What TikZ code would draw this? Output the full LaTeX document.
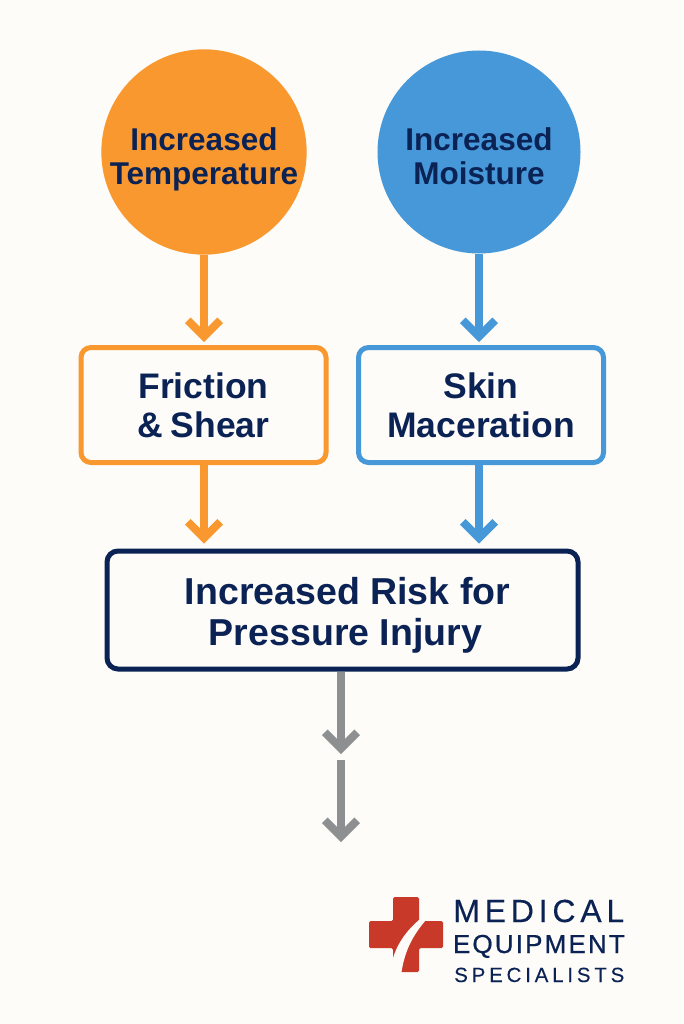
\documentclass[tikz,border=0pt]{standalone}
\usepackage{fontspec}
\setmainfont{Liberation Sans}
\newfontfamily\logoA[LetterSpace=15,FakeBold=0.25]{Liberation Sans}
\newfontfamily\logoB[LetterSpace=8.3,FakeBold=0.8]{Liberation Sans}
\newfontfamily\logoC[LetterSpace=18.5,FakeBold=0.15]{Liberation Sans}
\usetikzlibrary{arrows.meta}
\definecolor{orangeC}{HTML}{F9982F}
\definecolor{blueC}{HTML}{4698D9}
\definecolor{navyC}{HTML}{0B2255}
\definecolor{paperC}{HTML}{FDFCF8}
\definecolor{grayC}{HTML}{8E8F91}
\definecolor{redC}{HTML}{C9392A}
\newcommand{\sH}[1]{\rule{0pt}{#1pt}}
\newcommand{\sD}[1]{\rule[-#1pt]{0pt}{#1pt}}
\tikzset{
  x=1pt,y=-1pt,
  lab/.style={text=navyC,font=\bfseries,align=center,inner sep=0pt},
  bubble/.style={circle,minimum size=203pt,inner sep=0pt,lab,font=\fontsize{31.5}{34}\bfseries\selectfont},
  midbox/.style={rectangle,rounded corners=10pt,line width=5pt,fill=paperC,minimum width=245pt,minimum height=115pt,lab,font=\fontsize{35.5}{39}\bfseries\selectfont},
  riskbox/.style={rectangle,rounded corners=11pt,line width=5pt,draw=navyC,fill=paperC,minimum width=471pt,minimum height=118pt,lab,font=\fontsize{37.5}{41}\bfseries\selectfont},
  flow/.style={line width=8pt,-{Straight Barb[sharp,length=16pt,width=32.4pt,line width=8pt]}},
  logotext/.style={text=navyC,inner sep=0pt,anchor=base east}
}
\begin{document}
\begin{tikzpicture}
\path[use as bounding box,fill=paperC] (0,0) rectangle (683,1024);

\node[bubble,fill=orangeC] (temp) at (204,152) {\sH{40}Increased\\Temperature\sD{8}};
\node[bubble,fill=blueC] (moist) at (479,152) {\sH{40}Increased\\Moisture\sD{8}};
\node[midbox,draw=orangeC] (fric) at (203.5,405) {\sH{36}Friction\\\&\hspace{0.22em}Shear\sD{10}};
\node[midbox,draw=blueC] (skin) at (481,405) {\sH{36}Skin\\Maceration\sD{10}};
\node[riskbox] (risk) at (342.5,610) {\sH{38}\hspace*{10pt}Increased Risk for\\\hspace*{6pt}Pressure Injury\sD{9}};

\coordinate (g1) at (341,754);
\coordinate (g2s) at (341,760);
\coordinate (g2) at (341,842);

\draw[flow,orangeC,shorten >=3pt] (temp.south) -- (temp.south |- fric.north);
\draw[flow,blueC,shorten >=3pt] (moist.south) -- (moist.south |- skin.north);
\draw[flow,orangeC,shorten >=5pt] (fric.south -| temp.south) -- (temp.south |- risk.north);
\draw[flow,blueC,shorten >=5pt] (skin.south -| moist.south) -- (moist.south |- risk.north);
\draw[flow,grayC] (risk.south -| g1) -- (g1);
\draw[flow,grayC] (g2s) -- (g2);

% logo
\fill[redC,rounded corners=1.5pt] (393,897) -- (419,897) -- (419,921) -- (443,921) -- (443,948) -- (419,948) -- (419,972) -- (393,972) -- (393,948) -- (369,948) -- (369,921) -- (393,921) -- cycle;
\fill[paperC] (419,920) .. controls (405,932) and (397,945) .. (393,958) -- (390,960) -- (390,975) -- (401.5,975) -- (401.5,972) .. controls (405,950) and (413,935) .. (426,920) -- cycle;
\node[logotext,font=\logoA\fontsize{32}{32}\selectfont] (lg1) at (624.5,922) {MEDICAL};
\node[logotext,font=\logoB\fontsize{26}{26}\selectfont] (lg2) at (625,953) {EQUIPMENT};
\node[logotext,font=\logoC\fontsize{20.5}{20.5}\selectfont] (lg3) at (624.5,982) {SPECIALISTS};
\end{tikzpicture}
\end{document}
